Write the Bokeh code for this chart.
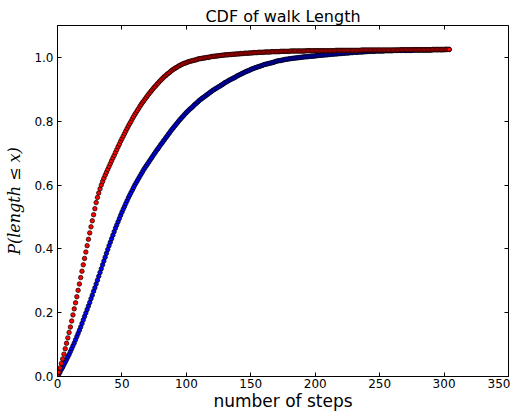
from bokeh.plotting import figure
from bokeh.models import Range1d, LinearAxis, FixedTicker
from bokeh.embed import file_html
from bokeh.resources import INLINE

title_text = "CDF of walk Length"
x_label = "number of steps"
y_label = "P(length \u2264 x)"
x_ticks = [0, 50, 100, 150, 200, 250, 300, 350]
y_ticks = [0.0, 0.2, 0.4, 0.6, 0.8, 1.0]

steps = list(range(305))

red_cdf = [
    0.000, 0.013, 0.027, 0.041, 0.055, 0.070, 0.087, 0.104, 0.121, 0.138, 0.155,
    0.174, 0.193, 0.212, 0.231, 0.250, 0.270, 0.290, 0.310, 0.330, 0.350,
    0.370, 0.390, 0.410, 0.430, 0.450, 0.469, 0.488, 0.507, 0.526, 0.545,
    0.561, 0.575, 0.588, 0.600, 0.611, 0.621, 0.631, 0.640, 0.649, 0.658,
    0.667, 0.676, 0.685, 0.693, 0.702, 0.711, 0.720, 0.728, 0.737, 0.745,
    0.753, 0.761, 0.769, 0.777, 0.785, 0.792, 0.799, 0.807, 0.814, 0.821,
    0.827, 0.834, 0.840, 0.847, 0.853, 0.859, 0.864, 0.870, 0.875, 0.881,
    0.886, 0.891, 0.896, 0.901, 0.906, 0.910, 0.915, 0.919, 0.924, 0.928,
    0.932, 0.936, 0.940, 0.943, 0.947, 0.950, 0.953, 0.957, 0.960, 0.963,
    0.965, 0.968, 0.970, 0.973, 0.975, 0.977, 0.979, 0.981, 0.982, 0.984,
    0.985, 0.987, 0.988, 0.989, 0.990, 0.991, 0.992, 0.993, 0.995, 0.996,
    0.996, 0.997, 0.998, 0.998, 0.999, 1.000, 1.000, 1.001, 1.002, 1.003,
    1.003, 1.004, 1.004, 1.005, 1.005, 1.006, 1.006, 1.007, 1.007, 1.008,
    1.008, 1.008, 1.009, 1.009, 1.009, 1.010, 1.010, 1.010, 1.011, 1.011,
    1.011, 1.012, 1.012, 1.012, 1.013, 1.013, 1.013, 1.013, 1.014, 1.014,
    1.014, 1.015, 1.015, 1.015, 1.015, 1.016, 1.016, 1.016, 1.016, 1.016,
    1.017, 1.017, 1.017, 1.017, 1.017, 1.018, 1.018, 1.018, 1.018, 1.018,
    1.018, 1.018, 1.019, 1.019, 1.019, 1.019, 1.019, 1.019, 1.019, 1.019,
    1.020, 1.020, 1.020, 1.020, 1.020, 1.020, 1.020, 1.020, 1.020, 1.020,
    1.020, 1.020, 1.021, 1.021, 1.021, 1.021, 1.021, 1.021, 1.021, 1.021,
    1.021, 1.021, 1.021, 1.021, 1.021, 1.021, 1.021, 1.021, 1.021, 1.021,
    1.021, 1.021, 1.021, 1.021, 1.021, 1.022, 1.022, 1.022, 1.022, 1.022,
    1.022, 1.022, 1.022, 1.022, 1.022, 1.022, 1.022, 1.022, 1.022, 1.022,
    1.022, 1.022, 1.022, 1.022, 1.022, 1.023, 1.023, 1.023, 1.023, 1.023,
    1.023, 1.023, 1.023, 1.023, 1.023, 1.023, 1.023, 1.023, 1.023, 1.023,
    1.023, 1.023, 1.023, 1.023, 1.023, 1.023, 1.023, 1.023, 1.023, 1.023,
    1.023, 1.023, 1.023, 1.023, 1.023, 1.024, 1.024, 1.024, 1.024, 1.024,
    1.024, 1.024, 1.024, 1.024, 1.024, 1.024, 1.024, 1.024, 1.024, 1.024,
    1.024, 1.024, 1.024, 1.024, 1.024, 1.024, 1.024, 1.024, 1.024, 1.024,
    1.025, 1.025, 1.025, 1.025, 1.025, 1.025, 1.025, 1.025, 1.025, 1.025,
    1.025, 1.025, 1.025, 1.025,
]

blue_cdf = [
    0.000, 0.007, 0.014, 0.022, 0.029, 0.037, 0.045, 0.053, 0.061, 0.069, 0.078,
    0.087, 0.096, 0.105, 0.115, 0.125, 0.135, 0.145, 0.155, 0.166, 0.177,
    0.188, 0.199, 0.210, 0.221, 0.232, 0.244, 0.255, 0.267, 0.278, 0.290,
    0.302, 0.314, 0.326, 0.338, 0.350, 0.362, 0.374, 0.386, 0.398, 0.410,
    0.421, 0.432, 0.443, 0.454, 0.465, 0.475, 0.485, 0.495, 0.505, 0.515,
    0.524, 0.533, 0.542, 0.551, 0.560, 0.568, 0.576, 0.584, 0.592, 0.600,
    0.607, 0.614, 0.621, 0.628, 0.635, 0.642, 0.649, 0.655, 0.661, 0.667,
    0.673, 0.679, 0.685, 0.691, 0.697, 0.703, 0.709, 0.714, 0.720, 0.726,
    0.731, 0.737, 0.742, 0.748, 0.753, 0.759, 0.764, 0.770, 0.775, 0.780,
    0.785, 0.790, 0.795, 0.800, 0.805, 0.809, 0.814, 0.818, 0.823, 0.827,
    0.831, 0.835, 0.839, 0.842, 0.846, 0.850, 0.854, 0.857, 0.861, 0.865,
    0.868, 0.871, 0.874, 0.877, 0.880, 0.883, 0.886, 0.889, 0.892, 0.895,
    0.898, 0.900, 0.903, 0.905, 0.908, 0.910, 0.913, 0.915, 0.918, 0.921,
    0.923, 0.925, 0.928, 0.930, 0.932, 0.934, 0.936, 0.938, 0.941, 0.943,
    0.945, 0.947, 0.949, 0.951, 0.953, 0.955, 0.957, 0.958, 0.960, 0.962,
    0.964, 0.965, 0.967, 0.968, 0.970, 0.971, 0.972, 0.974, 0.975, 0.977,
    0.978, 0.979, 0.980, 0.981, 0.982, 0.983, 0.984, 0.985, 0.987, 0.988,
    0.989, 0.990, 0.990, 0.991, 0.992, 0.993, 0.994, 0.994, 0.995, 0.996,
    0.996, 0.997, 0.997, 0.998, 0.998, 0.999, 0.999, 1.000, 1.000, 1.001,
    1.001, 1.002, 1.002, 1.002, 1.003, 1.003, 1.004, 1.004, 1.004, 1.005,
    1.005, 1.006, 1.006, 1.007, 1.007, 1.007, 1.008, 1.008, 1.008, 1.009,
    1.009, 1.010, 1.010, 1.010, 1.011, 1.011, 1.011, 1.012, 1.012, 1.012,
    1.013, 1.013, 1.013, 1.014, 1.014, 1.014, 1.015, 1.015, 1.015, 1.016,
    1.016, 1.016, 1.016, 1.017, 1.017, 1.017, 1.017, 1.018, 1.018, 1.018,
    1.019, 1.019, 1.019, 1.019, 1.019, 1.019, 1.020, 1.020, 1.020, 1.020,
    1.020, 1.020, 1.020, 1.021, 1.021, 1.021, 1.021, 1.021, 1.021, 1.021,
    1.022, 1.022, 1.022, 1.022, 1.022, 1.022, 1.022, 1.022, 1.022, 1.022,
    1.022, 1.022, 1.022, 1.022, 1.022, 1.023, 1.023, 1.023, 1.023, 1.023,
    1.023, 1.023, 1.023, 1.023, 1.023, 1.023, 1.023, 1.023, 1.023, 1.023,
    1.024, 1.024, 1.024, 1.024, 1.024, 1.024, 1.024, 1.024, 1.024, 1.024,
    1.025, 1.025, 1.025, 1.025,
]

p = figure(
    frame_width=451, frame_height=351,
    x_range=Range1d(0, 350), y_range=Range1d(0, 1.1),
    output_backend="svg", toolbar_location=None,
    min_border_left=48, min_border_right=2,
    min_border_top=14, min_border_bottom=30,
    margin=(4, 0, 0, 2),
)
p.background_fill_color = "white"
p.border_fill_color = "white"
p.outline_line_color = "black"
p.outline_line_width = 1
p.xgrid.visible = False
p.ygrid.visible = False

p.title.text = title_text
p.title.text_font = "DejaVu Sans"
p.title.text_font_size = "16px"
p.title.text_font_style = "normal"
p.title.align = "center"
p.title.text_color = "black"
p.title.standoff = 0
p.title.offset = 0

for ax in (p.xaxis[0], p.yaxis[0]):
    ax.major_tick_in = 4
    ax.major_tick_out = 0
    ax.minor_tick_line_color = None
    ax.axis_line_color = "black"
    ax.major_tick_line_color = "black"
    ax.major_label_text_font = "DejaVu Sans"
    ax.major_label_text_font_size = "12px"
    ax.major_label_text_color = "black"
    ax.major_label_standoff = 4
    ax.axis_label_text_color = "black"

p.xaxis[0].major_label_standoff = 2
p.xaxis[0].ticker = FixedTicker(ticks=x_ticks)
p.yaxis[0].ticker = FixedTicker(ticks=y_ticks)
p.yaxis[0].major_label_overrides = {t: f"{t:.1f}" for t in y_ticks}
p.xaxis[0].axis_label = x_label
p.xaxis[0].axis_label_text_font = "DejaVu Sans"
p.xaxis[0].axis_label_text_font_size = "17px"
p.xaxis[0].axis_label_text_font_style = "normal"
p.xaxis[0].axis_label_standoff = 0
p.yaxis[0].axis_label = y_label
p.yaxis[0].axis_label_text_font = "DejaVu Serif"
p.yaxis[0].axis_label_text_font_size = "16px"
p.yaxis[0].axis_label_text_font_style = "italic"
p.yaxis[0].axis_label_standoff = 7

top = LinearAxis(ticker=FixedTicker(ticks=x_ticks), major_tick_in=4, major_tick_out=0,
                 minor_tick_line_color=None, axis_line_color=None,
                 major_label_text_color=None, major_label_text_font_size="1px",
                 major_label_standoff=0)
right = LinearAxis(ticker=FixedTicker(ticks=y_ticks), major_tick_in=4, major_tick_out=0,
                   minor_tick_line_color=None, axis_line_color=None,
                   major_label_text_color=None, major_label_text_font_size="1px",
                   major_label_standoff=0)
p.add_layout(top, "above")
p.add_layout(right, "right")

p.scatter(steps, blue_cdf, size=4.5, fill_color="#0000ff", line_color="black", line_width=0.7)
p.scatter(steps, red_cdf, size=4.5, fill_color="#ff0000", line_color="black", line_width=0.7)

open("out.html", "w").write(file_html(p, INLINE))
